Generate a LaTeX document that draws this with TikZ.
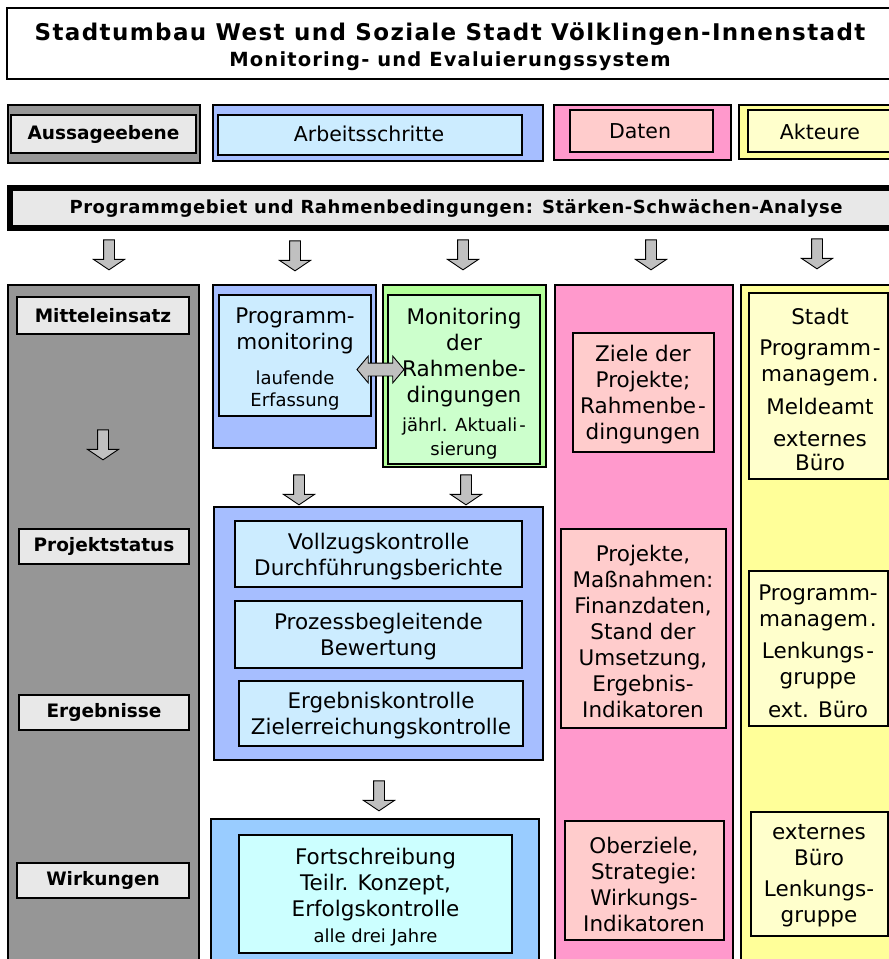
\documentclass[tikz,border=0pt]{standalone}
\usepackage{fontspec}
\setmainfont{DejaVu Sans}
\newfontfamily\spacedfont[LetterSpace=6]{DejaVu Sans}
\newfontfamily\subfont[LetterSpace=6]{DejaVu Sans}
\newfontfamily\barfont[LetterSpace=3]{DejaVu Sans}
\usetikzlibrary{shapes.arrows,fit}
\definecolor{graycol}{HTML}{969696}
\definecolor{labfill}{HTML}{E8E8E8}
\definecolor{blueout}{HTML}{A6BEFF}
\definecolor{bluein}{HTML}{CCECFF}
\definecolor{greenout}{HTML}{B3FF99}
\definecolor{greenin}{HTML}{CCFFCC}
\definecolor{pinkout}{HTML}{FF99CC}
\definecolor{pinkin}{HTML}{FFCCCC}
\definecolor{yelout}{HTML}{FFFF99}
\definecolor{yelin}{HTML}{FFFFCC}
\definecolor{skyout}{HTML}{99CCFF}
\definecolor{skyin}{HTML}{CCFFFF}
\definecolor{arrfill}{HTML}{C0C0C0}
\newcommand\fsN{\fontsize{21.5}{26}\selectfont}
\newcommand\fsH{\fontsize{20.5}{24}\selectfont}
\newcommand\fsS{\fontsize{18}{22}\selectfont}
\newcommand\fsL{\fontsize{18.5}{22}\selectfont\bfseries}
\tikzset{
  bx/.style={draw=black, line width=1.4pt, inner sep=0pt, rectangle},
  tx/.style={align=center, inner sep=0pt, font=\fsN},
  lbl/.style={bx, fill=labfill},
  lbltx/.style={inner sep=0pt, font=\fsL},
  darr/.style={single arrow, draw=black, line width=0.9pt, fill=arrfill,
    shape border rotate=270, inner sep=5pt, single arrow head extend=10pt,
    single arrow tip angle=112, minimum height=30pt, minimum width=30pt},
  harr/.style={double arrow, draw=black, line width=0.9pt, fill=arrfill,
    inner sep=6pt, double arrow head extend=7pt, double arrow tip angle=100,
    minimum height=47pt}
}
\begin{document}
\begin{tikzpicture}[x=1pt,y=-1pt]
\useasboundingbox (0,0) rectangle (889,959);
\clip (0,0) rectangle (889,959);
% title
\node[bx, fill=white, fit={(7,8) (900,79)}] (title) {};
\node[anchor=base, inner sep=0pt] (titleA) at (450,40)
  {\fontsize{23}{28}\selectfont\spacedfont\bfseries Stadtumbau West und Soziale Stadt Völklingen-Innenstadt};
\node[anchor=base, inner sep=0pt] (titleB) at (450,66)
  {\fontsize{19.5}{24}\selectfont\subfont\bfseries Monitoring- und Evaluierungssystem};
% header row
\node[bx, fill=graycol, fit={(8,105) (200,163)}] (hA) {};
\node[lbl, fit={(11,115) (196,153)}] (hAl) {};
\node[lbltx] (hAt) at (103.5,134.5) {Aussageebene};
\node[bx, fill=blueout, fit={(213,105) (543,161)}] (hB) {};
\node[bx, fill=bluein, fit={(218,115) (522,155)}] (hBl) {};
\node[font=\fsH, inner sep=0pt] (hBt) at (369,134) {Arbeitsschritte};
\node[bx, fill=pinkout, fit={(554,105) (731,160)}] (hC) {};
\node[bx, fill=pinkin, fit={(570,110) (713,152)}] (hCl) {};
\node[font=\fsH, inner sep=0pt] (hCt) at (640,131) {Daten};
\node[bx, fill=yelout, fit={(739,105) (900,159)}] (hD) {};
\node[bx, fill=yelin, fit={(748,110) (900,152)}] (hDl) {};
\node[font=\fsH, inner sep=0pt] (hDt) at (820,132) {Akteure};
% bar
\node[draw=black, line width=6pt, fill=labfill, inner sep=0pt, fit={(10,188) (900,228)}] (bar) {};
\node[inner sep=0pt] (bartext) at (456,208)
  {\fontsize{18}{22}\selectfont\barfont\bfseries Programmgebiet und Rahmenbedingungen: Stärken-Schwächen-Analyse};
% arrows row 1
\node[darr] (a1) at (109,253) {};
\node[darr] (a2) at (295,254) {};
\node[darr] (a3) at (463,253) {};
\node[darr] (a4) at (651,253) {};
\node[darr] (a5) at (817,252) {};
% column A
\node[bx, fill=graycol, fit={(8,285) (199,975)}] (colA) {};
\node[lbl, fit={(17,297) (189,334)}] (lA1) {};
\node[lbltx] (lA1t) at (lA1.center) {Mitteleinsatz};
\node[darr] (aA) at (103,443) {};
\node[lbl, fit={(19,529) (189,564)}] (lA2) {};
\node[lbltx] (lA2t) at (lA2.center) {Projektstatus};
\node[lbl, fit={(19,695) (189,730)}] (lA3) {};
\node[lbltx] (lA3t) at (lA3.center) {Ergebnisse};
\node[lbl, fit={(17,863) (189,898)}] (lA4) {};
\node[lbltx] (lA4t) at (lA4.center) {Wirkungen};
% column B top
\node[bx, fill=blueout, fit={(213,285) (376,448)}] (pmO) {};
\node[bx, fill=bluein, fit={(219,295) (371,416)}] (pmI) {};
\node[tx] (pmT) at (295,359) {Programm-\\monitoring\\[9pt]{\fsS laufende}\\[-4pt]{\fsS Erfassung}};
\node[bx, fill=greenout, fit={(383,285) (546,467)}] (mrO) {};
\node[bx, fill=greenin, fit={(388,295) (540,464)}] (mrI) {};
\node[tx] (mrT) at (464,384) {Monitoring\\der\\Rahmenbe-\\dingungen\\[3pt]{\fsS jährl. Aktuali\kern2pt-}\\[-2pt]{\fsS sierung}};
\node[harr] (dbl) at (380.5,369.5) {};
% arrows row 2
\node[darr] (b1) at (299,488) {};
\node[darr] (b2) at (466,488) {};
% column B middle
\node[bx, fill=blueout, fit={(214,507) (543,760)}] (ctl) {};
\node[bx, fill=bluein, fit={(235,521) (522,587)}] (ctl1) {};
\node[tx] (ctl1t) at (378.5,557) {Vollzugskontrolle\\Durchführungsberichte};
\node[bx, fill=bluein, fit={(235,601) (522,668)}] (ctl2) {};
\node[tx] (ctl2t) at (378.5,637) {Prozessbegleitende\\Bewertung};
\node[bx, fill=bluein, fit={(239,681) (523,746)}] (ctl3) {};
\node[tx] (ctl3t) at (381,716) {Ergebniskontrolle\\Zielerreichungskontrolle};
\node[darr] (c1) at (379,794) {};
% column B bottom
\node[bx, fill=skyout, fit={(211,819) (539,975)}] (fsO) {};
\node[bx, fill=skyin, fit={(239,835) (512,953)}] (fsI) {};
\node[tx] (fsT) at (375.5,897) {Fortschreibung\\Teilr. Konzept,\\Erfolgskontrolle\\{\fsS alle drei Jahre}};
% column C
\node[bx, fill=pinkout, fit={(555,285) (733,975)}] (colC) {};
\node[bx, fill=pinkin, fit={(573,333) (714,452)}] (d1) {};
\node[tx] (d1t) at (643,395) {Ziele der\\Projekte;\\Rahmenbe\kern2pt-\\dingungen};
\node[bx, fill=pinkin, fit={(561,529) (726,728)}] (d2) {};
\node[tx] (d2t) at (643,631) {Projekte,\\Maßnahmen:\\Finanzdaten,\\Stand der\\Umsetzung,\\Ergebnis-\\Indikatoren};
\node[bx, fill=pinkin, fit={(565,821) (724,940)}] (d3) {};
\node[tx] (d3t) at (644,884) {Oberziele,\\Strategie:\\Wirkungs-\\Indikatoren};
% column D
\node[bx, fill=yelout, fit={(741,285) (900,975)}] (colD) {};
\node[bx, fill=yelin, fit={(749,293) (888,479)}] (e1) {};
\node[tx] (e1t) at (820,389) {Stadt\\[5pt]Programm\kern2pt-\\managem\kern2pt.\\[7pt]Meldeamt\\[6pt]externes\\[-2pt]Büro};
\node[bx, fill=yelin, fit={(749,571) (888,726)}] (e2) {};
\node[tx] (e2t) at (818,651) {Programm-\\managem\kern2pt.\\[6pt]Lenkungs\kern2pt-\\gruppe\\[7pt]ext. Büro};
\node[bx, fill=yelin, fit={(751,812) (888,936)}] (e3) {};
\node[tx] (e3t) at (819,876) {externes\\Büro\\[5pt]Lenkungs-\\gruppe};
\end{tikzpicture}
\end{document}
